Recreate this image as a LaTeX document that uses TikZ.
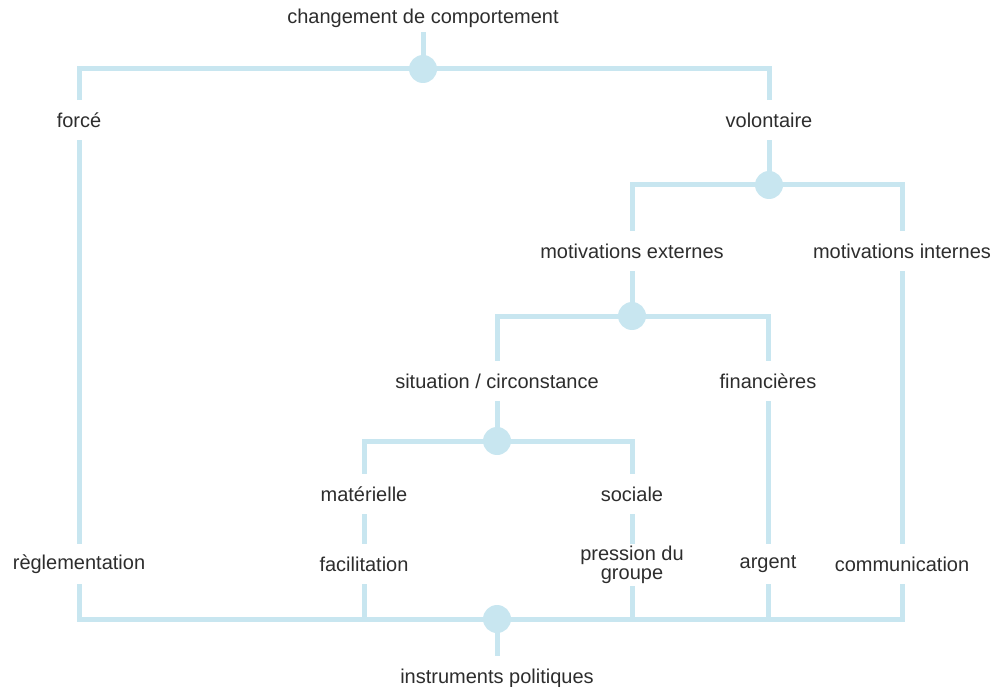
\documentclass[tikz,border=0pt]{standalone}
\usepackage{fontspec}
\setmainfont{Liberation Sans}
\definecolor{ln}{RGB}{200,230,240}
\definecolor{tx}{RGB}{45,45,45}
\begin{document}
\begin{tikzpicture}[x=1pt,y=-1pt,
  lbl/.style={text=tx,font=\fontsize{20}{19.5}\selectfont,inner sep=0pt,minimum height=40pt,align=center},
  conn/.style={draw=ln,line width=5pt},
  dot/.style={circle,fill=ln,minimum size=28pt,inner sep=0pt}]
\useasboundingbox (0,0) rectangle (996,687);
% labels
\node[lbl,minimum height=28pt] (top) at (423,18) {changement de comportement};
\node[lbl] (force) at (79,120) {forcé};
\node[lbl] (vol) at (769,120) {volontaire};
\node[lbl] (mext) at (632,251) {motivations externes};
\node[lbl] (mint) at (902,251) {motivations internes};
\node[lbl] (sit) at (497,381) {situation / circonstance};
\node[lbl] (fin) at (768,381) {financières};
\node[lbl] (mat) at (364,494) {matérielle};
\node[lbl] (soc) at (632,494) {sociale};
\node[lbl] (regl) at (79,564) {règlementation};
\node[lbl] (facil) at (364,564) {facilitation};
\node[lbl,minimum height=42pt] (press) at (632,565) {pression du\\groupe};
\node[lbl] (arg) at (768,564) {argent};
\node[lbl] (comm) at (902,564) {communication};
\node[lbl,minimum height=44pt] (instr) at (497,678) {instruments politiques};
% junctions
\coordinate (c1) at (423,69);
\coordinate (c2) at (769,185);
\coordinate (c3) at (632,316);
\coordinate (c4) at (497,441);
\coordinate (c5) at (497,619);
% connectors
\draw[conn] (top) -- (c1);
\draw[conn] (force) |- (c1) -| (vol);
\draw[conn] (vol) -- (c2);
\draw[conn] (mext) |- (c2) -| (mint);
\draw[conn] (mext) -- (c3);
\draw[conn] (sit) |- (c3) -| (fin);
\draw[conn] (sit) -- (c4);
\draw[conn] (mat) |- (c4) -| (soc);
\draw[conn] (force) -- (regl);
\draw[conn] (mat) -- (facil);
\draw[conn] (soc) -- (press);
\draw[conn] (fin) -- (arg);
\draw[conn] (mint) -- (comm);
\draw[conn] (regl) |- (c5) -| (comm);
\draw[conn] (facil) |- (c5);
\draw[conn] (press) |- (c5);
\draw[conn] (arg) |- (c5);
\draw[conn] (c5) -- (instr);
% dots
\node[dot] (d1) at (c1) {};
\node[dot] (d2) at (c2) {};
\node[dot] (d3) at (c3) {};
\node[dot] (d4) at (c4) {};
\node[dot] (d5) at (c5) {};
\end{tikzpicture}
\end{document}
